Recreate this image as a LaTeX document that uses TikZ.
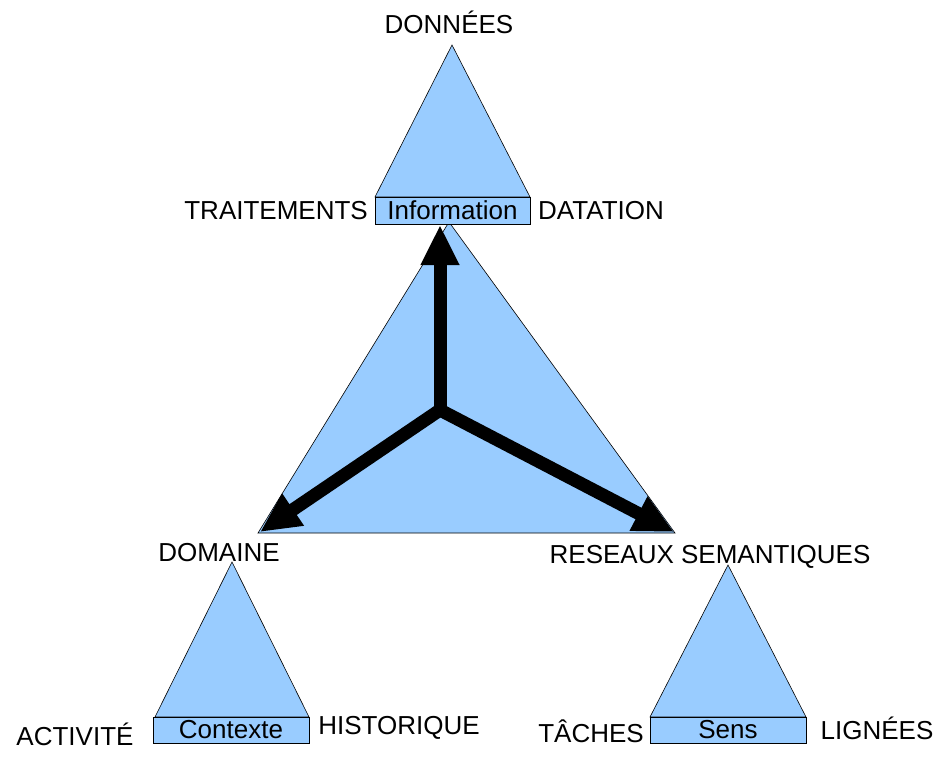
\documentclass[tikz,border=0pt]{standalone}
\usepackage{fontspec}
\setmainfont{Liberation Sans}
\usetikzlibrary{arrows.meta}
\definecolor{bleu}{RGB}{153,204,255}
\tikzset{
  tri/.style={fill=bleu, draw=black, line width=0.6pt},
  boite/.style={rectangle, fill=bleu, draw=black, line width=0.6pt, inner sep=0pt},
  lab/.style={inner sep=0pt, font=\fontsize{26}{30}\selectfont},
  fleche/.style={line width=13pt, -{Triangle[length=40pt, width=36pt]}}
}
\begin{document}
\begin{tikzpicture}[x=1pt, y=-1pt]
  \useasboundingbox (0,0) rectangle (951,765);
  % grand triangle
  \draw[tri] (449,222) -- (258,533) -- (675,533) -- cycle;
  % petits triangles
  \draw[tri] (452,45) -- (375,197) -- (530,197) -- cycle;
  \draw[tri] (232,562) -- (155,717) -- (309,717) -- cycle;
  \draw[tri] (728,565) -- (650,717) -- (806,717) -- cycle;

  % boites
  \node[boite, minimum width=155pt, minimum height=27pt] (info) at (452.5,210.5) {};
  \node[lab] at (info) {Information};
  \node[boite, minimum width=156pt, minimum height=26pt] (ctx) at (231,730) {};
  \node[lab] at (ctx) {Contexte};
  \node[boite, minimum width=156pt, minimum height=26pt] (sens) at (728,730) {};
  \node[lab] at (sens) {Sens};

  % fleches
  \coordinate (c) at (440,410);
  \coordinate (h) at (440,225);
  \coordinate (g) at (260,532);
  \coordinate (d) at (674,532);
  \draw[fleche] (c) -- (h);
  \draw[fleche] (c) -- (g);
  \draw[fleche] (c) -- (d);
  \fill (c) circle (6.5pt);

  % etiquettes
  \node[lab] (donnees) at (449,22) {DONNÉES};
  \node[lab, anchor=east] (trait) at (368,211) {TRAITEMENTS};
  \node[lab, anchor=west] (dat) at (538,211) {DATATION};
  \node[lab] (dom) at (219,553) {DOMAINE};
  \node[lab] (res) at (710,557) {RESEAUX SEMANTIQUES};
  \node[lab] (act) at (75,734) {ACTIVITÉ};
  \node[lab] (hist) at (399,728) {HISTORIQUE};
  \node[lab] (tach) at (591,731) {TÂCHES};
  \node[lab] (lign) at (877,728) {LIGNÉES};
\end{tikzpicture}
\end{document}
